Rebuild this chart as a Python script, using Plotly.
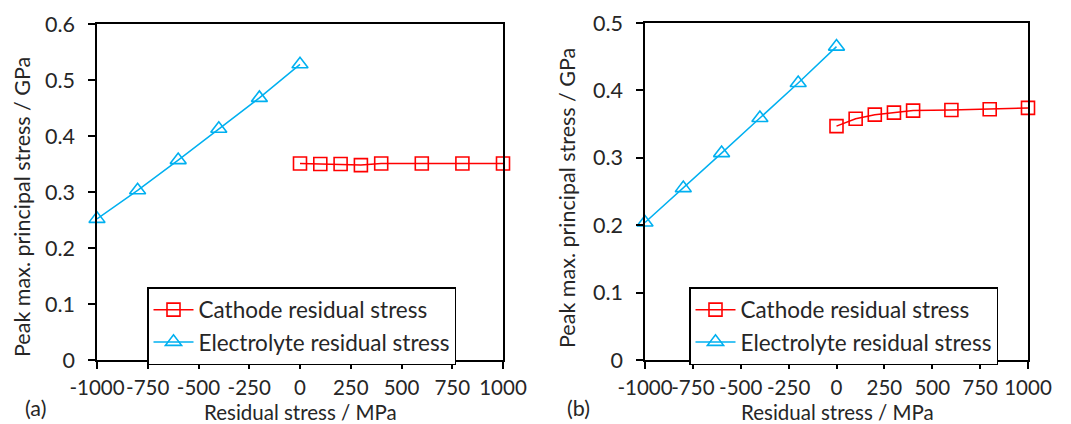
import plotly.graph_objects as go

# Panel (a)
a_elec_x = [-1000, -800, -600, -400, -200, 0]
a_elec_y = [0.252, 0.303, 0.357, 0.413, 0.468, 0.528]
a_cath_x = [0, 100, 200, 300, 400, 600, 800, 1000]
a_cath_y = [0.351, 0.350, 0.350, 0.348, 0.351, 0.351, 0.351, 0.351]

# Panel (b)
b_elec_x = [-1000, -800, -600, -400, -200, 0]
b_elec_y = [0.204, 0.255, 0.307, 0.359, 0.411, 0.465]
b_cath_x = [0, 100, 200, 300, 400, 600, 800, 1000]
b_cath_y = [0.347, 0.358, 0.364, 0.367, 0.370, 0.371, 0.372, 0.374]

x_tickvals = [-1000, -750, -500, -250, 0, 250, 500, 750, 1000]
x_ticktext = ["-1000", "-750", "-500", "-250", "0", "250", "500", "750", "1000"]
a_y_tickvals = [0, 0.1, 0.2, 0.3, 0.4, 0.5, 0.6]
a_y_ticktext = ["0", "0.1", "0.2", "0.3", "0.4", "0.5", "0.6"]
b_y_tickvals = [0, 0.1, 0.2, 0.3, 0.4, 0.5]
b_y_ticktext = ["0", "0.1", "0.2", "0.3", "0.4", "0.5"]

RED = "#FF0000"
BLUE = "#00B0F0"
TXT = "#262626"
FONT = "Lato"
FS = 21.5
XFS = 20.5
TFS = 20.5
LFS = 22.5

fig = go.Figure()

def add_pair(cx, cy, ex, ey, xa, ya, leg):
    fig.add_trace(go.Scatter(
        x=cx, y=cy, mode="lines+markers", name="Cathode residual stress",
        line=dict(color=RED, width=1.5),
        marker=dict(symbol="square-open", size=13, color=RED, line=dict(width=1.6)),
        xaxis=xa, yaxis=ya, legend=leg, cliponaxis=False))
    fig.add_trace(go.Scatter(
        x=ex, y=ey, mode="lines+markers", name="Electrolyte residual stress",
        line=dict(color=BLUE, width=1.5),
        marker=dict(symbol="triangle-up-open", size=14, color=BLUE, line=dict(width=1.6)),
        xaxis=xa, yaxis=ya, legend=leg, cliponaxis=False))

add_pair(a_cath_x, a_cath_y, a_elec_x, a_elec_y, "x", "y", "legend")
add_pair(b_cath_x, b_cath_y, b_elec_x, b_elec_y, "x2", "y2", "legend2")

W, H = 1071, 424
def px(v): return v / W
def py(v): return 1 - v / H

axis_common = dict(showgrid=False, zeroline=False, showline=True, linecolor="black",
                   linewidth=1.5, mirror=True, ticks="outside", ticklen=7,
                   tickwidth=1.5, tickcolor="black", automargin=False)

leg_common = dict(xanchor="left", yanchor="top",
                  bordercolor="black", borderwidth=1.5, bgcolor="white",
                  font=dict(family=FONT, size=LFS, color=TXT), tracegroupgap=0,
                  itemwidth=40)

xfont = dict(family=FONT, size=XFS, color=TXT)
yfont = dict(family=FONT, size=FS, color=TXT)

fig.update_layout(
    width=W, height=H, margin=dict(l=0, r=0, t=0, b=0),
    plot_bgcolor="white", paper_bgcolor="white",
    font=dict(family=FONT, size=FS, color=TXT),
    xaxis=dict(domain=[px(97), px(503)], range=[-1000, 1000], anchor="y",
               tickvals=x_tickvals, ticktext=x_ticktext, tickangle=0, tickfont=xfont,
               ticklabelstandoff=2, **axis_common),
    yaxis=dict(domain=[py(360), py(24)], range=[0, 0.6], anchor="x",
               tickvals=a_y_tickvals, ticktext=a_y_ticktext, tickfont=yfont,
               ticklabelstandoff=9, **axis_common),
    xaxis2=dict(domain=[px(645), px(1028)], range=[-1000, 1000], anchor="y2",
                tickvals=x_tickvals, ticktext=x_ticktext, tickangle=0, tickfont=xfont,
                ticklabelstandoff=2, **axis_common),
    yaxis2=dict(domain=[py(360), py(23)], range=[0, 0.5], anchor="x2",
                tickvals=b_y_tickvals, ticktext=b_y_ticktext, tickfont=yfont,
                ticklabelstandoff=9, **axis_common),
    legend=dict(x=px(147), y=py(287), **leg_common),
    legend2=dict(x=px(689), y=py(287), **leg_common),
)

annos = [
    dict(text="Residual stress / MPa", x=px(300), y=py(412), size=TFS),
    dict(text="Residual stress / MPa", x=px(837), y=py(412), size=TFS),
    dict(text="Peak max. principal stress / GPa", x=px(22), y=py(207), textangle=-90, size=FS),
    dict(text="Peak max. principal stress / GPa", x=px(567), y=py(198), textangle=-90, size=FS),
    dict(text="(a)", x=px(35), y=py(408), size=FS),
    dict(text="(b)", x=px(578), y=py(408), size=FS),
]
for a in annos:
    size = a.pop("size")
    fig.add_annotation(xref="paper", yref="paper", showarrow=False,
                       xanchor="center", yanchor="middle",
                       font=dict(family=FONT, size=size, color=TXT), **a)

fig.write_html("out.html", config={"displayModeBar": False},
               post_script="document.body.style.margin='0';document.body.style.overflow='hidden';")
